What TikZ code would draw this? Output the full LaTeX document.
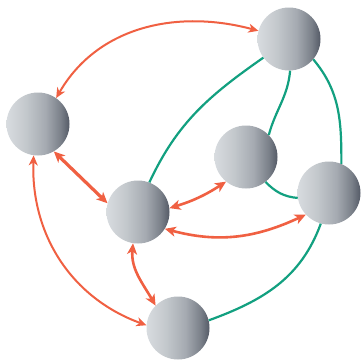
\documentclass[tikz,border=0pt]{standalone}
\usetikzlibrary{arrows.meta}
\definecolor{ballA}{RGB}{216,220,223}
\definecolor{ballB}{RGB}{196,201,205}
\definecolor{ballC}{RGB}{165,170,177}
\definecolor{ballD}{RGB}{122,128,137}
\definecolor{ballE}{RGB}{84,90,102}
\definecolor{redarr}{RGB}{240,96,66}
\definecolor{greenln}{RGB}{18,160,128}
\pgfdeclarehorizontalshading{ballshade}{100bp}{color(0bp)=(ballA); color(25bp)=(ballA); color(40bp)=(ballB); color(56bp)=(ballC); color(68bp)=(ballD); color(75bp)=(ballE); color(100bp)=(ballE)}
\tikzset{
  ball/.style={circle, minimum size=63pt, inner sep=0pt, shading=ballshade, draw=none},
  redlink/.style={draw=redarr, line width=2pt, {Stealth[length=10pt,width=9pt,inset=3pt]}-{Stealth[length=10pt,width=9pt,inset=3pt]}},
  redmid/.style={draw=redarr, line width=2.6pt, {Stealth[length=11pt,width=10pt,inset=3pt]}-{Stealth[length=11pt,width=10pt,inset=3pt]}},
  redthick/.style={redmid, line width=3.2pt},
  greenlink/.style={draw=greenln, line width=2.2pt},
}
\begin{document}
\begin{tikzpicture}[x=1pt,y=-1pt]
\useasboundingbox[fill=white] (0,0) rectangle (362,362);
\node[ball] (tr) at (289,39) {};
\node[ball] (l) at (38,124) {};
\node[ball] (c) at (138,212) {};
\node[ball] (m) at (246,157) {};
\node[ball] (r) at (329,193) {};
\node[ball] (b) at (178,328) {};
% green links
\draw[greenlink] (tr.216) to[out=215,in=65] (c.69);
\draw[greenlink] (tr.-88) to[out=-95,in=75] (m.44);
\draw[greenlink] (tr.-40) to[out=-50,in=90] (r.67);
\draw[greenlink] (m.-52) to[out=-45,in=175] (r.189);
\draw[greenlink] (r.-105) to[out=-110,in=20] (b.14);
% red links
\draw[redlink] (l.55) to[out=60,in=165] (tr.165);
\draw[redthick] (l.-60) -- (c.164);
\draw[redlink] (l.-98) to[out=-92,in=160] (b.175);
\draw[redmid] (c.7) to[bend right=8] (m.231);
\draw[redmid] (c.-32) to[out=-15,in=-155] (r.223);
\draw[redmid] (c.-99) to[out=-95,in=120] (b.135);
\end{tikzpicture}
\end{document}
